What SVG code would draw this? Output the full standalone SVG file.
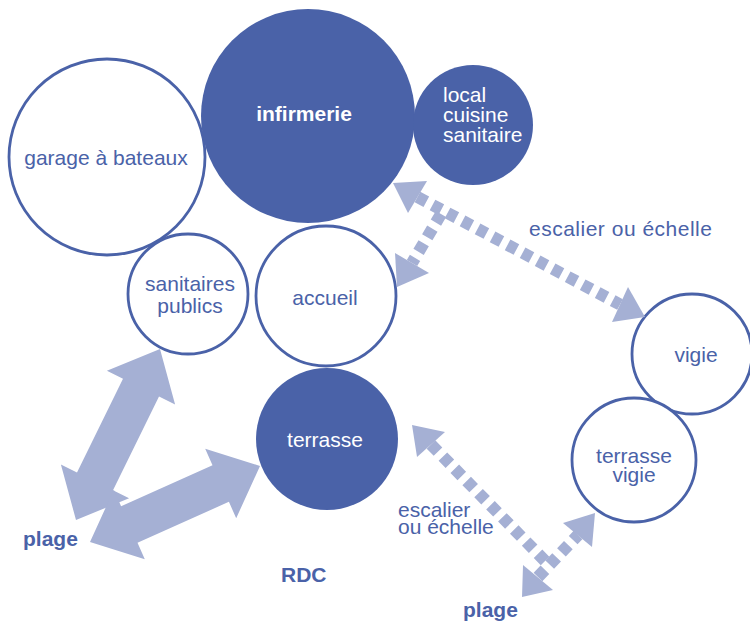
<svg xmlns="http://www.w3.org/2000/svg" width="750" height="622" viewBox="0 0 750 622">
<style>
.c{fill:#fff;stroke:#4a62a8;stroke-width:2.8}
.f{fill:#4a62a8}
.t{font-family:"Liberation Sans",Arial,sans-serif;font-size:21px;fill:#4a62a8}
.w{fill:#fff}
.b{font-weight:bold}
.m{text-anchor:middle}
.d{fill:none;stroke:#a5b0d4;stroke-width:12;stroke-dasharray:10 7}
.h{fill:#a5b0d4}
</style>
<rect width="750" height="622" fill="#fff"/>
<g id="garage"><circle class="c" cx="107" cy="157" r="98"/><text class="t m" x="106" y="165">garage à bateaux</text></g>
<g id="sanitaires"><circle class="c" cx="188" cy="294" r="60"/><text class="t m" x="190" y="291">sanitaires</text><text class="t m" x="190" y="313">publics</text></g>
<g id="infirmerie"><circle class="f" cx="308" cy="116" r="107"/><text class="t w b m" x="304" y="121">infirmerie</text></g>
<g id="local"><circle class="f" cx="473" cy="125" r="60"/><text class="t w" x="443" y="102">local</text><text class="t w" x="443" y="122">cuisine</text><text class="t w" x="443" y="142">sanitaire</text></g>
<g id="accueil"><circle class="c" cx="326" cy="296" r="70"/><text class="t m" x="325" y="305">accueil</text></g>
<g id="terrasse"><circle class="f" cx="327" cy="439" r="71"/><text class="t w m" x="325" y="447">terrasse</text></g>
<g id="vigie"><circle class="c" cx="692" cy="354" r="60"/><text class="t m" x="696" y="362">vigie</text></g>
<g id="terrasse-vigie"><circle class="c" cx="634" cy="460" r="62"/><text class="t m" x="634" y="463">terrasse</text><text class="t m" x="634" y="482">vigie</text></g>
<g id="labels">
<text class="t" x="529" y="236" letter-spacing="0.5">escalier ou échelle</text>
<text class="t" x="398" y="517">escalier</text>
<text class="t" x="398" y="534">ou échelle</text>
<text class="t b" x="23" y="546">plage</text>
<text class="t b" x="463" y="617">plage</text>
<text class="t b" x="281" y="582">RDC</text>
</g>
<g id="connectors">
<polygon class="h" points="160,349 175.1,404.4 159,396.4 113,490.2 129.1,498.2 76,520 60.9,464.6 77,472.6 123,378.8 106.9,370.8"/>
<polygon class="h" points="260,466 236.2,518.2 228.9,501.8 137.5,542.8 144.8,559.2 90,542 113.8,489.8 121.1,506.2 212.5,465.2 205.2,448.8"/>
<path class="d" d="M417.5,197 L620,304.5"/>
<polygon class="h" points="393,183 408,213 427,181"/>
<polygon class="h" points="645,317 628,287 612,322"/>
<path class="d" d="M441,214 L412,263"/>
<polygon class="h" points="397,287 395,253 429,273"/>
<path class="d" d="M431,444.5 L549,565"/>
<polygon class="h" points="412,425 445,432 417,457"/>
<path class="d" d="M538,577 L578,535"/>
<polygon class="h" points="522,597 523,565 553,590"/>
<polygon class="h" points="595,513 563,523 592,547"/>
</g>
</svg>
